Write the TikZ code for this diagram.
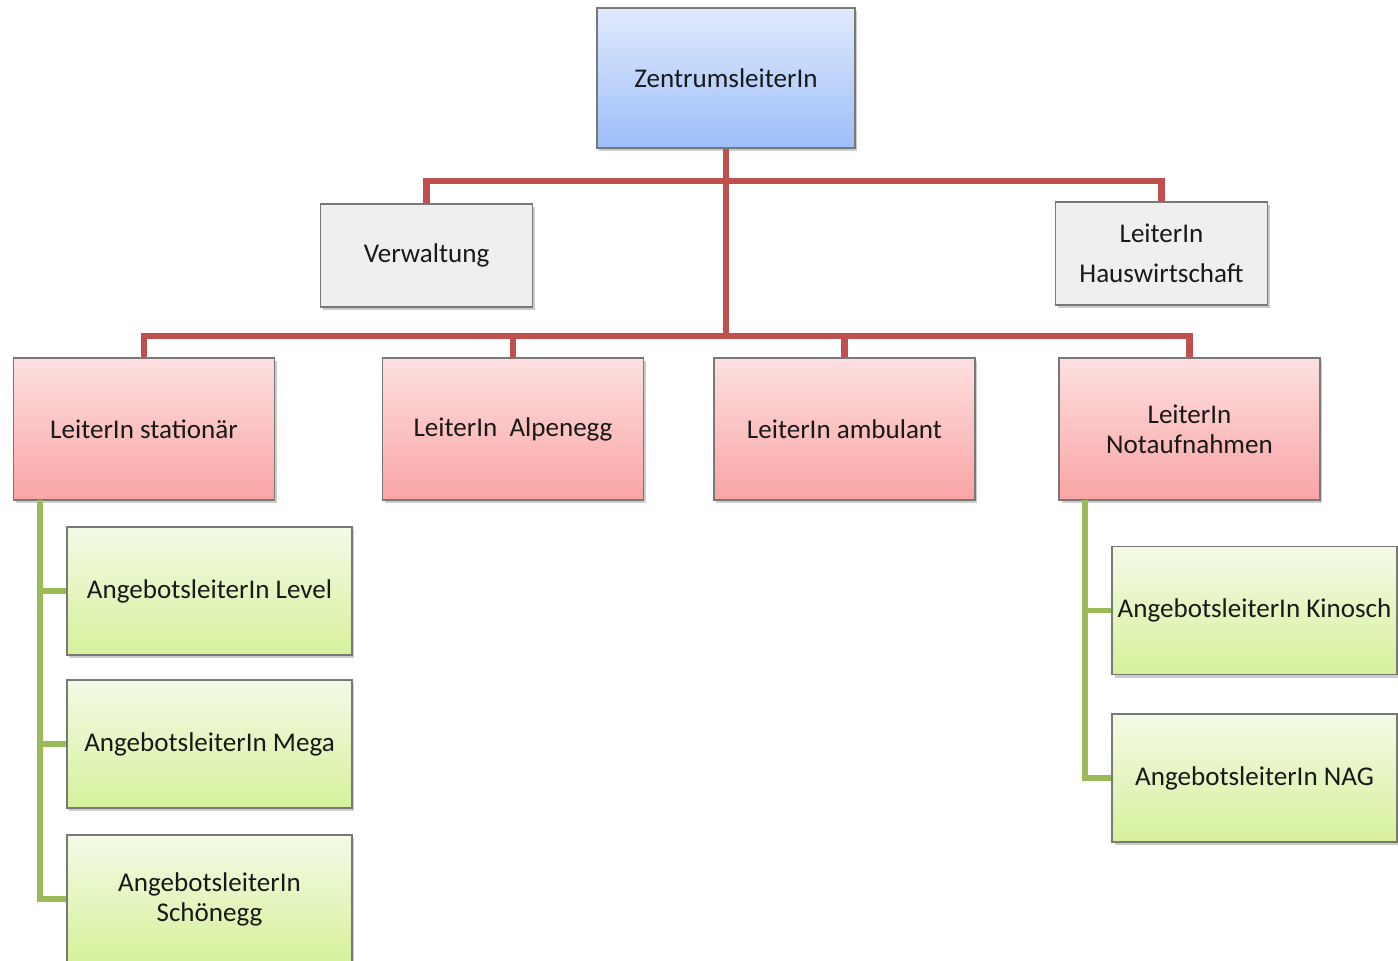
\documentclass[tikz,border=0pt]{standalone}
\usepackage{fontspec}
\setmainfont{Carlito}
\usepackage{tikz}
\usetikzlibrary{shadows}
\definecolor{linered}{RGB}{192,80,77}
\definecolor{linegreen}{RGB}{155,187,89}
\definecolor{boxframe}{RGB}{120,120,120}
\tikzset{
	orgbox/.style={rectangle, draw=boxframe, line width=0.9pt, inner sep=0pt, align=center,
		text=black!90, font=\fontsize{15.4}{17}\selectfont,
		drop shadow={shadow xshift=1.4pt, shadow yshift=-1.8pt, opacity=0.4}}
}
\tikzset{
	chefbox/.style={orgbox, top color={rgb,255:red,224;green,234;blue,252}, bottom color={rgb,255:red,157;green,190;blue,250},
		minimum width=5.16cm, minimum height=2.8cm}
}
\tikzset{
	stabbox/.style={orgbox, fill={rgb,255:red,239;green,239;blue,239}, minimum width=4.24cm, minimum height=2.06cm}
}
\tikzset{
	leitbox/.style={orgbox, top color={rgb,255:red,253;green,224;blue,224}, bottom color={rgb,255:red,250;green,164;blue,164},
		minimum width=5.22cm, minimum height=2.84cm}
}
\tikzset{
	angbox/.style={orgbox, top color={rgb,255:red,243;green,250;blue,230}, bottom color={rgb,255:red,214;green,241;blue,155},
		minimum width=5.7cm, minimum height=2.56cm}
}
\tikzset{
	redline/.style={linered, line width=3.5pt},
	greenline/.style={linegreen, line width=3.3pt}
}

\begin{document}
\begin{tikzpicture}[x=0.02cm,y=-0.02cm]
			\clip (0,0) rectangle (1398,960);
			% oberste Ebene
			\node[chefbox] (zentrum) at (726,78) {ZentrumsleiterIn};
			\node[stabbox] (verw) at (426.5,255.5) {Verwaltung};
			\node[stabbox, align=center, font=\fontsize{15.4}{22.8}\selectfont] (hausw) at (1161.5,253.5) {LeiterIn\\Hauswirtschaft};
			% Leitungen
			\node[leitbox] (stat) at (144,429) {LeiterIn stationär};
			\node[leitbox] (alpen) at (513,429) {LeiterIn\ \ Alpenegg};
			\node[leitbox] (ambu) at (844.5,429) {LeiterIn ambulant};
			\node[leitbox] (notauf) at (1189.5,429) {LeiterIn\\Notaufnahmen};
			% Angebote
			\node[angbox] (level) at (209.5,591) {AngebotsleiterIn Level};
			\node[angbox] (mega) at (209.5,744) {AngebotsleiterIn Mega};
			\node[angbox] (schoen) at (209.5,899) {AngebotsleiterIn\\Schönegg};
			\node[angbox] (kino) at (1254.5,610.5) {AngebotsleiterIn Kinosch};
			\node[angbox] (nag) at (1254.5,778) {AngebotsleiterIn NAG};
			% Verbindungen
			\coordinate (bus1) at (726,181);
			\coordinate (bus2) at (726,336);
			\coordinate (gl) at (40,500);
			\coordinate (gr) at (1085,500);
			\begin{scope}[on background layer/.try]
			\draw[redline] (zentrum.south) -- (bus2);
			\draw[redline] (verw.north) |- (bus1) -| (hausw.north);
			\draw[redline] (stat.north) |- (bus2) -| (notauf.north);
			\draw[redline] (alpen.north) -- (alpen.north |- bus2);
			\draw[redline] (ambu.north) -- (ambu.north |- bus2);
			\draw[greenline] (gl) |- (schoen.west);
			\draw[greenline] (gl |- level.west) -- (level.west);
			\draw[greenline] (gl |- mega.west) -- (mega.west);
			\draw[greenline] (gr) |- (nag.west);
			\draw[greenline] (gr |- kino.west) -- (kino.west);
			\end{scope}
		\end{tikzpicture}
\end{document}
